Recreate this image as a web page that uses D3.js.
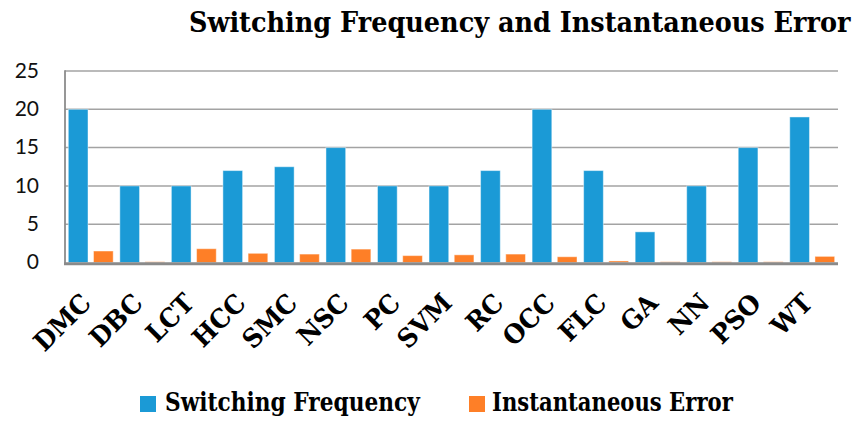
<!DOCTYPE html>
<html>
<head>
<meta charset="utf-8">
<script src="https://cdn.jsdelivr.net/npm/d3@7"></script>
<style>
  html, body { margin: 0; padding: 0; background: #fff; }
  svg { display: block; }
</style>
</head>
<body>
<svg id="chart" width="864" height="422"></svg>
<script>
const categories = ["DMC","DBC","LCT","HCC","SMC","NSC","PC","SVM","RC","OCC","FLC","GA","NN","PSO","WT"];
const switchingFrequency = [20, 10, 10, 12, 12.5, 15, 10, 10, 12, 20, 12, 4, 10, 15, 19];
const instantaneousError = [1.5, 0.1, 1.8, 1.2, 1.1, 1.75, 0.9, 1.0, 1.1, 0.75, 0.2, 0.1, 0.1, 0.1, 0.8];
const seriesNames = ["Switching Frequency", "Instantaneous Error"];
const seriesColors = ["#1b9ad6", "#fe7f27"];
const yTicks = [0, 5, 10, 15, 20, 25];
const titleText = "Switching Frequency and Instantaneous Error";

const svg = d3.select("#chart");
const plot = { left: 65, right: 838, top: 71, bottom: 262.5 };
const serifFont = "'DejaVu Serif', serif";

const x = d3.scaleBand().domain(categories).range([plot.left, plot.right]).paddingInner(0).paddingOuter(0);
const xs = d3.scaleBand().domain([0, 1]).range([3.3, 48.2]).paddingInner(0.218).paddingOuter(0);
const y = d3.scaleLinear().domain([0, 25]).range([plot.bottom, plot.top]);

// Gridlines
svg.append("g").selectAll("line").data(yTicks.filter(t => t > 0)).join("line")
  .attr("x1", plot.left).attr("x2", plot.right)
  .attr("y1", d => y(d)).attr("y2", d => y(d))
  .attr("stroke", "#a3a3a3").attr("stroke-width", 1.5);

// Left axis line
svg.append("line")
  .attr("x1", plot.left).attr("x2", plot.left)
  .attr("y1", y(25) - 0.75).attr("y2", y(0) + 1)
  .attr("stroke", "#8c8c8c").attr("stroke-width", 1.8);

// Bars
const data = categories.map((c, i) => ({ c, vals: [switchingFrequency[i], instantaneousError[i]] }));
const groups = svg.append("g").selectAll("g").data(data).join("g")
  .attr("transform", d => `translate(${x(d.c)},0)`);
groups.selectAll("rect").data(d => d.vals.map((v, k) => ({ v, k }))).join("rect")
  .attr("x", d => xs(d.k))
  .attr("width", xs.bandwidth())
  .attr("y", d => y(d.v))
  .attr("height", d => y(0) - y(d.v))
  .attr("fill", d => seriesColors[d.k])
  .attr("stroke", "#ffffff").attr("stroke-opacity", 0.45).attr("stroke-width", 1);

// Bottom axis
svg.append("line")
  .attr("x1", plot.left - 1).attr("x2", plot.right)
  .attr("y1", y(0) + 1.2).attr("y2", y(0) + 1.2)
  .attr("stroke", "#8a8a8a").attr("stroke-width", 3);

// Y tick labels
svg.append("g").selectAll("text").data(yTicks).join("text")
  .attr("x", 39).attr("y", d => y(d) + 1.5)
  .attr("text-anchor", "end").attr("dominant-baseline", "middle")
  .attr("font-family", "Lato, 'Open Sans', sans-serif").attr("font-size", 21)
  .attr("fill", "#111").text(d => d);

// X labels
const xLabelScale = 0.95;
svg.append("g").selectAll("text").data(categories).join("text")
  .attr("transform", d => `translate(${x(d) + x.bandwidth() / 2 + 2},${plot.bottom + 42}) rotate(-45) scale(${xLabelScale},1)`)
  .attr("text-anchor", "end")
  .attr("font-family", serifFont).attr("font-weight", "bold").attr("font-size", 26)
  .attr("fill", "#000").text(d => d);

// Text fitted horizontally to a target width via a scale transform
function fittedText(px, py, str, size, target) {
  const t = svg.append("text")
    .attr("x", 0).attr("y", 0)
    .attr("font-family", serifFont).attr("font-weight", "bold").attr("font-size", size)
    .attr("fill", "#000").text(str);
  const w = t.node().getComputedTextLength();
  t.attr("transform", `translate(${px},${py}) scale(${target / w},1)`);
  return t;
}

// Title
fittedText(189, 32, titleText, 27, 662);

// Legend
const legendItems = [
  { name: seriesNames[0], color: seriesColors[0], sx: 140, tx: 165, w: 255 },
  { name: seriesNames[1], color: seriesColors[1], sx: 469, tx: 492, w: 241 }
];
legendItems.forEach(it => {
  svg.append("rect").attr("x", it.sx).attr("y", 396).attr("width", 16).attr("height", 16).attr("fill", it.color);
  fittedText(it.tx, 411, it.name, 26, it.w);
});
</script>
</body>
</html>
